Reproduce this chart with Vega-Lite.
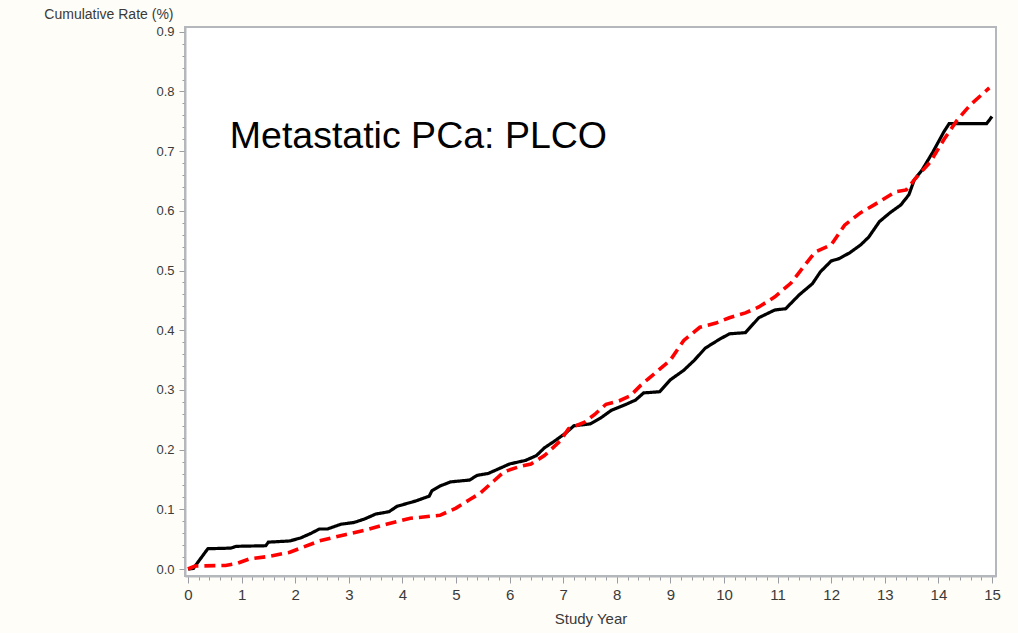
{
  "$schema": "https://vega.github.io/schema/vega-lite/v6.json",
  "width": 811,
  "height": 549,
  "autosize": "none",
  "padding": {"left": 185, "top": 27, "right": 22, "bottom": 57},
  "background": "#fffdf7",
  "config": {
    "view": {"stroke": "#b4b8bc", "strokeWidth": 2, "fill": "white"},
    "font": "Liberation Sans"
  },
  "datasets": {
    "curves": [
      {"arm": "A", "year": 0, "rate": 0},
      {"arm": "A", "year": 0.1, "rate": 0.001},
      {"arm": "A", "year": 0.37, "rate": 0.034},
      {"arm": "A", "year": 0.8, "rate": 0.035},
      {"arm": "A", "year": 0.9, "rate": 0.038},
      {"arm": "A", "year": 1.45, "rate": 0.039},
      {"arm": "A", "year": 1.5, "rate": 0.045},
      {"arm": "A", "year": 1.9, "rate": 0.047},
      {"arm": "A", "year": 2.1, "rate": 0.052},
      {"arm": "A", "year": 2.3, "rate": 0.06},
      {"arm": "A", "year": 2.45, "rate": 0.067},
      {"arm": "A", "year": 2.6, "rate": 0.067},
      {"arm": "A", "year": 2.85, "rate": 0.075},
      {"arm": "A", "year": 3.1, "rate": 0.078},
      {"arm": "A", "year": 3.3, "rate": 0.084},
      {"arm": "A", "year": 3.5, "rate": 0.092},
      {"arm": "A", "year": 3.75, "rate": 0.096},
      {"arm": "A", "year": 3.9, "rate": 0.105},
      {"arm": "A", "year": 4.25, "rate": 0.114},
      {"arm": "A", "year": 4.5, "rate": 0.122},
      {"arm": "A", "year": 4.55, "rate": 0.131},
      {"arm": "A", "year": 4.7, "rate": 0.139},
      {"arm": "A", "year": 4.9, "rate": 0.146},
      {"arm": "A", "year": 5.25, "rate": 0.149},
      {"arm": "A", "year": 5.4, "rate": 0.157},
      {"arm": "A", "year": 5.6, "rate": 0.16},
      {"arm": "A", "year": 5.8, "rate": 0.168},
      {"arm": "A", "year": 6.0, "rate": 0.176},
      {"arm": "A", "year": 6.3, "rate": 0.182},
      {"arm": "A", "year": 6.5, "rate": 0.19},
      {"arm": "A", "year": 6.65, "rate": 0.203},
      {"arm": "A", "year": 6.85, "rate": 0.215},
      {"arm": "A", "year": 7.05, "rate": 0.228},
      {"arm": "A", "year": 7.2, "rate": 0.24},
      {"arm": "A", "year": 7.5, "rate": 0.243},
      {"arm": "A", "year": 7.7, "rate": 0.253},
      {"arm": "A", "year": 7.9, "rate": 0.266},
      {"arm": "A", "year": 8.15, "rate": 0.275},
      {"arm": "A", "year": 8.35, "rate": 0.283},
      {"arm": "A", "year": 8.5, "rate": 0.295},
      {"arm": "A", "year": 8.8, "rate": 0.297},
      {"arm": "A", "year": 9.0, "rate": 0.317},
      {"arm": "A", "year": 9.25, "rate": 0.333},
      {"arm": "A", "year": 9.45, "rate": 0.35},
      {"arm": "A", "year": 9.65, "rate": 0.37},
      {"arm": "A", "year": 9.9, "rate": 0.384},
      {"arm": "A", "year": 10.1, "rate": 0.394},
      {"arm": "A", "year": 10.4, "rate": 0.396},
      {"arm": "A", "year": 10.65, "rate": 0.421},
      {"arm": "A", "year": 10.95, "rate": 0.434},
      {"arm": "A", "year": 11.15, "rate": 0.436},
      {"arm": "A", "year": 11.4, "rate": 0.459},
      {"arm": "A", "year": 11.65, "rate": 0.478},
      {"arm": "A", "year": 11.8, "rate": 0.498},
      {"arm": "A", "year": 12.0, "rate": 0.516},
      {"arm": "A", "year": 12.15, "rate": 0.52},
      {"arm": "A", "year": 12.35, "rate": 0.53},
      {"arm": "A", "year": 12.55, "rate": 0.543},
      {"arm": "A", "year": 12.7, "rate": 0.556},
      {"arm": "A", "year": 12.9, "rate": 0.582},
      {"arm": "A", "year": 13.1, "rate": 0.597},
      {"arm": "A", "year": 13.3, "rate": 0.61},
      {"arm": "A", "year": 13.45, "rate": 0.627},
      {"arm": "A", "year": 13.55, "rate": 0.652},
      {"arm": "A", "year": 13.7, "rate": 0.669},
      {"arm": "A", "year": 13.9, "rate": 0.699},
      {"arm": "A", "year": 14.1, "rate": 0.732},
      {"arm": "A", "year": 14.2, "rate": 0.746},
      {"arm": "A", "year": 14.9, "rate": 0.746},
      {"arm": "A", "year": 15.0, "rate": 0.758},
      {"arm": "B", "year": 0, "rate": 0},
      {"arm": "B", "year": 0.13, "rate": 0.005},
      {"arm": "B", "year": 0.7, "rate": 0.006},
      {"arm": "B", "year": 0.9, "rate": 0.009},
      {"arm": "B", "year": 1.15, "rate": 0.017},
      {"arm": "B", "year": 1.5, "rate": 0.021},
      {"arm": "B", "year": 1.9, "rate": 0.028},
      {"arm": "B", "year": 2.1, "rate": 0.035},
      {"arm": "B", "year": 2.45, "rate": 0.047},
      {"arm": "B", "year": 2.95, "rate": 0.058},
      {"arm": "B", "year": 3.3, "rate": 0.065},
      {"arm": "B", "year": 3.7, "rate": 0.075},
      {"arm": "B", "year": 4.15, "rate": 0.085},
      {"arm": "B", "year": 4.7, "rate": 0.09},
      {"arm": "B", "year": 5.0, "rate": 0.102},
      {"arm": "B", "year": 5.25, "rate": 0.116},
      {"arm": "B", "year": 5.45, "rate": 0.127},
      {"arm": "B", "year": 5.7, "rate": 0.147},
      {"arm": "B", "year": 5.9, "rate": 0.163},
      {"arm": "B", "year": 6.2, "rate": 0.172},
      {"arm": "B", "year": 6.4, "rate": 0.176},
      {"arm": "B", "year": 6.65, "rate": 0.19},
      {"arm": "B", "year": 6.95, "rate": 0.215},
      {"arm": "B", "year": 7.1, "rate": 0.235},
      {"arm": "B", "year": 7.4, "rate": 0.246},
      {"arm": "B", "year": 7.6, "rate": 0.26},
      {"arm": "B", "year": 7.8, "rate": 0.276},
      {"arm": "B", "year": 8.05, "rate": 0.282},
      {"arm": "B", "year": 8.25, "rate": 0.29},
      {"arm": "B", "year": 8.45, "rate": 0.308},
      {"arm": "B", "year": 8.7, "rate": 0.327},
      {"arm": "B", "year": 9.0, "rate": 0.35},
      {"arm": "B", "year": 9.25, "rate": 0.383},
      {"arm": "B", "year": 9.55, "rate": 0.405},
      {"arm": "B", "year": 9.85, "rate": 0.412},
      {"arm": "B", "year": 10.1, "rate": 0.421},
      {"arm": "B", "year": 10.4, "rate": 0.429},
      {"arm": "B", "year": 10.65, "rate": 0.439},
      {"arm": "B", "year": 10.95, "rate": 0.456},
      {"arm": "B", "year": 11.25, "rate": 0.479},
      {"arm": "B", "year": 11.5, "rate": 0.508},
      {"arm": "B", "year": 11.7, "rate": 0.531},
      {"arm": "B", "year": 12.0, "rate": 0.543},
      {"arm": "B", "year": 12.25, "rate": 0.576},
      {"arm": "B", "year": 12.55, "rate": 0.597},
      {"arm": "B", "year": 12.8, "rate": 0.61},
      {"arm": "B", "year": 13.2, "rate": 0.632},
      {"arm": "B", "year": 13.4, "rate": 0.635},
      {"arm": "B", "year": 13.55, "rate": 0.652},
      {"arm": "B", "year": 13.85, "rate": 0.682},
      {"arm": "B", "year": 14.1, "rate": 0.719},
      {"arm": "B", "year": 14.35, "rate": 0.752},
      {"arm": "B", "year": 14.6, "rate": 0.778},
      {"arm": "B", "year": 14.95, "rate": 0.806}
    ],
    "note": [
      {"year": 0.78, "rate": 0.7055, "label": "Metastatic PCa: PLCO"}
    ]
  },
  "encoding": {
    "x": {
      "field": "year",
      "type": "quantitative",
      "scale": {"domain": [-0.056, 15.075], "nice": false, "zero": false},
      "axis": {
        "title": "Study Year",
        "titleFontSize": 15,
        "titleFontWeight": "normal",
        "titleColor": "#3a3a3a",
        "titlePadding": 9,
        "values": [0,0.2,0.4,0.6,0.8,1,1.2,1.4,1.6,1.8,2,2.2,2.4,2.6,2.8,3,3.2,3.4,3.6,3.8,4,4.2,4.4,4.6,4.8,5,5.2,5.4,5.6,5.8,6,6.2,6.4,6.6,6.8,7,7.2,7.4,7.6,7.8,8,8.2,8.4,8.6,8.8,9,9.2,9.4,9.6,9.8,10,10.2,10.4,10.6,10.8,11,11.2,11.4,11.6,11.8,12,12.2,12.4,12.6,12.8,13,13.2,13.4,13.6,13.8,14,14.2,14.4,14.6,14.8,15],
        "labelExpr": "abs(datum.value - round(datum.value)) < 0.001 ? format(datum.value, 'd') : ''",
        "labelFontSize": 15,
        "labelColor": "#3a3a3a",
        "labelPadding": 4,
        "labelOverlap": false,
        "labelFlush": false,
        "tickSize": {"condition": {"test": "abs(datum.value - round(datum.value)) < 0.001", "value": 7}, "value": 4},
        "tickColor": "#9a9ea2",
        "domainColor": "#b4b8bc",
        "domainWidth": 2,
        "grid": false
      }
    },
    "y": {
      "field": "rate",
      "type": "quantitative",
      "scale": {"domain": [-0.0117, 0.908], "nice": false, "zero": false},
      "axis": {
        "title": "Cumulative Rate (%)",
        "titleAngle": 0,
        "titleAlign": "right",
        "titleBaseline": "middle",
        "titleX": -12,
        "titleY": -13,
        "titleFontSize": 14,
        "titleFontWeight": "normal",
        "titleColor": "#3a3a3a",
        "values": [0,0.02,0.04,0.06,0.08,0.1,0.12,0.14,0.16,0.18,0.2,0.22,0.24,0.26,0.28,0.3,0.32,0.34,0.36,0.38,0.4,0.42,0.44,0.46,0.48,0.5,0.52,0.54,0.56,0.58,0.6,0.62,0.64,0.66,0.68,0.7,0.72,0.74,0.76,0.78,0.8,0.82,0.84,0.86,0.88,0.9],
        "labelExpr": "abs(datum.value*10 - round(datum.value*10)) < 0.001 ? format(datum.value, '.1f') : ''",
        "labelFontSize": 13,
        "labelColor": "#3a3a3a",
        "labelPadding": 5,
        "labelOverlap": false,
        "labelFlush": false,
        "tickSize": {"condition": {"test": "abs(datum.value*10 - round(datum.value*10)) < 0.001", "value": 6}, "value": 3},
        "tickColor": "#9a9ea2",
        "domainColor": "#b4b8bc",
        "domainWidth": 2,
        "grid": false
      }
    }
  },
  "layer": [
    {
      "data": {"name": "curves"},
      "mark": {"type": "line", "clip": true},
      "encoding": {
        "color": {
          "field": "arm",
          "type": "nominal",
          "scale": {"domain": ["A", "B"], "range": ["#000000", "#ff0000"]},
          "legend": null
        },
        "strokeDash": {
          "field": "arm",
          "type": "nominal",
          "scale": {"domain": ["A", "B"], "range": [[1, 0], [11, 6]]},
          "legend": null
        },
        "strokeWidth": {
          "field": "arm",
          "type": "nominal",
          "scale": {"domain": ["A", "B"], "range": [3.2, 3.6]},
          "legend": null
        }
      }
    },
    {
      "data": {"name": "note"},
      "mark": {"type": "text", "align": "left", "baseline": "alphabetic", "fontSize": 37.5, "font": "Liberation Sans", "color": "#000000"},
      "encoding": {
        "text": {"field": "label"}
      }
    }
  ]
}
